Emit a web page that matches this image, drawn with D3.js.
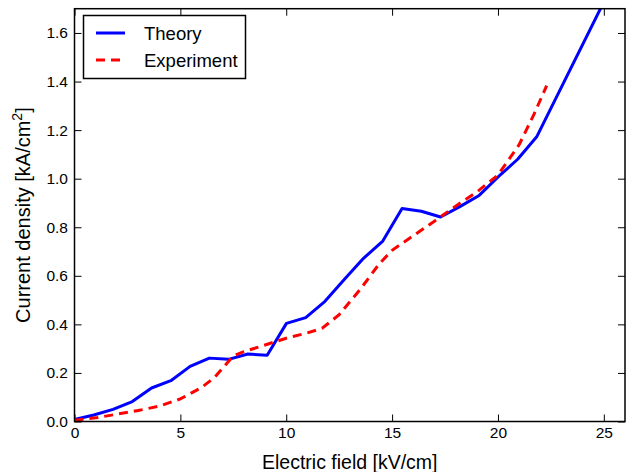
<!DOCTYPE html>
<html>
<head>
<meta charset="utf-8">
<script src="https://cdn.jsdelivr.net/npm/d3@7"></script>
<style>
  html, body { margin: 0; padding: 0; background: #fff; }
  svg { display: block; }
  text { font-family: "Liberation Sans", Arial, sans-serif; fill: #000; }
</style>
</head>
<body>
<svg id="chart" width="626" height="472"></svg>
<script>
// ---- data ----
const theoryX = [0, 0.91, 1.82, 2.73, 3.64, 4.55, 5.46, 6.37, 7.28, 8.19, 9.10, 10.01, 10.92, 11.83, 12.74, 13.65, 14.56, 15.47, 16.38, 17.29, 18.20, 19.11, 20.02, 20.93, 21.84, 25.48];
const theoryY = [0.008, 0.027, 0.050, 0.082, 0.138, 0.168, 0.227, 0.261, 0.256, 0.278, 0.273, 0.404, 0.428, 0.495, 0.585, 0.672, 0.743, 0.877, 0.866, 0.842, 0.885, 0.931, 1.008, 1.080, 1.174, 1.812];
const expX = [0, 1, 2, 3, 4, 5, 6, 6.6, 7.0, 7.5, 8, 9, 10, 11, 11.7, 12.5, 13.5, 14.4, 15, 16, 17, 18, 19, 20, 21, 21.7, 22.3];
const expY = [0.005, 0.015, 0.030, 0.045, 0.063, 0.093, 0.140, 0.180, 0.220, 0.270, 0.288, 0.315, 0.343, 0.365, 0.384, 0.440, 0.545, 0.650, 0.705, 0.765, 0.825, 0.887, 0.945, 1.015, 1.140, 1.265, 1.383];
const xTicks = [0, 5, 10, 15, 20, 25];
const yTicks = [0.0, 0.2, 0.4, 0.6, 0.8, 1.0, 1.2, 1.4, 1.6];
const seriesNames = ["Theory", "Experiment"];
const seriesColors = ["#0000ff", "#ff0000"];

// ---- layout ----
const svg = d3.select("#chart");
const L = 74.5, R = 625, T = 8.7, B = 421.5;
const x = d3.scaleLinear().domain([0, 26]).range([L, R]);
const y = d3.scaleLinear().domain([0, 1.7]).range([B, T]);

svg.append("defs").append("clipPath").attr("id", "clip")
  .append("rect").attr("x", L).attr("y", T).attr("width", R - L).attr("height", B - T);

const tickLen = 7;
const xAxisB = svg.append("g").attr("transform", `translate(0,${B})`)
  .call(d3.axisBottom(x).tickValues(xTicks).tickFormat(d3.format("d")).tickSizeInner(-tickLen).tickSizeOuter(0).tickPadding(5.5));
const xAxisT = svg.append("g").attr("transform", `translate(0,${T})`)
  .call(d3.axisTop(x).tickValues(xTicks).tickFormat("").tickSizeInner(-tickLen).tickSizeOuter(0));
const yAxisL = svg.append("g").attr("transform", `translate(${L},0)`)
  .call(d3.axisLeft(y).tickValues(yTicks).tickFormat(d3.format(".1f")).tickSizeInner(-tickLen).tickSizeOuter(0).tickPadding(6.5));
const yAxisR = svg.append("g").attr("transform", `translate(${R},0)`)
  .call(d3.axisRight(y).tickValues(yTicks).tickFormat("").tickSizeInner(-tickLen).tickSizeOuter(0));
[xAxisB, xAxisT, yAxisL, yAxisR].forEach(g => {
  g.select(".domain").remove();
  g.selectAll(".tick line").attr("stroke", "#000").attr("stroke-width", 1);
  g.selectAll(".tick text").attr("font-size", 15.5).attr("font-family", "Liberation Sans, Arial, sans-serif").attr("fill", "#000");
});

// lines
const plot = svg.append("g").attr("clip-path", "url(#clip)");
const line = d3.line().x(d => x(d[0])).y(d => y(d[1]));
const theory = theoryX.map((v, i) => [v, theoryY[i]]);
const exper = expX.map((v, i) => [v, expY[i]]);
plot.append("path").datum(theory).attr("d", line)
  .attr("fill", "none").attr("stroke", seriesColors[0]).attr("stroke-width", 3).attr("stroke-linejoin", "round");
plot.append("path").datum(exper).attr("d", line)
  .attr("fill", "none").attr("stroke", seriesColors[1]).attr("stroke-width", 3).attr("stroke-dasharray", "9,6");

// frame
svg.append("rect").attr("x", L).attr("y", T).attr("width", R - L).attr("height", B - T)
  .attr("fill", "none").attr("stroke", "#000").attr("stroke-width", 1.5);

// axis labels
svg.append("text").attr("x", (L + R) / 2).attr("y", 468.5).attr("text-anchor", "middle")
  .attr("font-size", 19.5).text("Electric field [kV/cm]");
const yl = svg.append("text").attr("transform", `translate(30,${(T + B) / 2}) rotate(-90)`)
  .attr("text-anchor", "middle").attr("font-size", 20);
yl.append("tspan").text("Current density [kA/cm");
yl.append("tspan").attr("font-size", 14).attr("dy", -8).text("2");
yl.append("tspan").attr("dy", 8).text("]");

// legend
const lg = svg.append("g");
lg.append("rect").attr("x", 83.5).attr("y", 15.5).attr("width", 162).attr("height", 63)
  .attr("fill", "#fff").attr("stroke", "#000").attr("stroke-width", 1.5);
const ly = [33, 60];
seriesNames.forEach((n, i) => {
  lg.append("line").attr("x1", 96).attr("x2", 125).attr("y1", ly[i]).attr("y2", ly[i])
    .attr("stroke", seriesColors[i]).attr("stroke-width", 3)
    .attr("stroke-dasharray", i === 1 ? "9,6" : null);
  lg.append("text").attr("x", 144).attr("y", ly[i] + 6.5).attr("font-size", 18.5).text(n);
});
</script>
</body>
</html>
